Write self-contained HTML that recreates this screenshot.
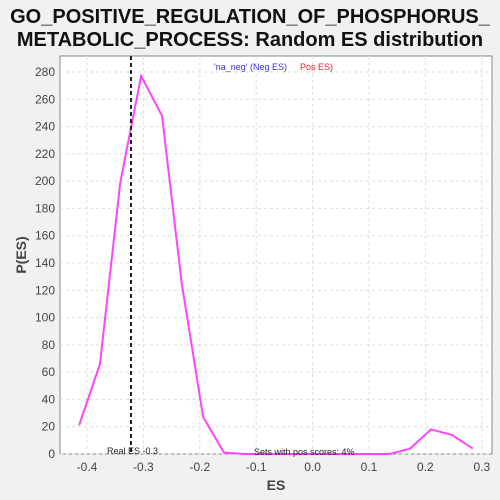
<!DOCTYPE html>
<html><head><meta charset="utf-8"><style>
body{margin:0;background:#f1f1f1;font-family:"Liberation Sans",sans-serif}
svg{display:block}
</style></head><body>
<svg id="c" width="500" height="500">
<rect width="500" height="500" fill="#f1f1f1"/>
<text x="250" y="23" text-anchor="middle" font-size="20" font-weight="bold" fill="#111">GO_POSITIVE_REGULATION_OF_PHOSPHORUS_</text>
<text x="250" y="46" text-anchor="middle" font-size="20" font-weight="bold" fill="#111">METABOLIC_PROCESS: Random ES distribution</text>
<rect x="60" y="56" width="432" height="398" fill="#fff" stroke="#888"/>
<g id="grid"></g><g id="ticks"></g>
<text x="276" y="490" text-anchor="middle" font-size="14" font-weight="bold" fill="#444">ES</text>
<text transform="translate(26,255) rotate(-90)" text-anchor="middle" font-size="14" font-weight="bold" fill="#444">P(ES)</text>
<text x="214" y="70" font-size="9" fill="#3333cc">'na_neg' (Neg ES)</text>
<text x="300" y="70" font-size="9" fill="#dd2222">Pos ES)</text>
<g id="marks"></g>
<text x="107" y="454" font-size="9" fill="#222">Real ES -0.3</text>
<text x="254" y="455" font-size="9" fill="#222">Sets with pos scores: 4%</text>
</svg>
<script>
const esValues=[-0.414,-0.377,-0.341,-0.304,-0.267,-0.232,-0.194,-0.157,-0.12,-0.083,-0.047,-0.01,0.027,0.063,0.1,0.137,0.173,0.21,0.247,0.284];
const pValues=[21,66,199,277,248,125,27,1,0,0,0,0,0,0,0,0,4,18,14,4];
const xTicks=[-0.4,-0.3,-0.2,-0.1,0.0,0.1,0.2,0.3];
const yTicks=[0,20,40,60,80,100,120,140,160,180,200,220,240,260,280];
const realES=-0.322;
const ns="http://www.w3.org/2000/svg";
const X=v=>312.6+v*564, Y=v=>454-v*(382/280);
function mk(t,a,p){const e=document.createElementNS(ns,t);for(const k in a)e.setAttribute(k,a[k]);document.getElementById(p).appendChild(e);return e;}
xTicks.forEach(t=>{
 const g=mk('line',{x1:X(t),x2:X(t),y1:56,y2:454,stroke:'#ddd','stroke-dasharray':'3,3'},'grid');
 
 
 const l=mk('text',{x:X(t),y:471,'text-anchor':'middle','font-size':'12',fill:'#444'},'ticks');
 l.textContent=t.toFixed(1);
 
 
});
yTicks.forEach(t=>{
 const g=mk('line',{x1:60,x2:492,y1:Y(t),y2:Y(t),stroke:'#ddd','stroke-dasharray':'3,3'},'grid');
 
 
 const l=mk('text',{x:55,y:Y(t)+4,'text-anchor':'end','font-size':'12',fill:'#444'},'ticks');
 l.textContent=t;
 
 
});
const pts=esValues.map((v,i)=>X(v)+','+Y(pValues[i])).join(' ');
const line=mk('polyline',{points:pts,fill:'none',stroke:'#ff44ff','stroke-width':2},'marks');


const r=mk('line',{x1:X(realES),x2:X(realES),y1:56,y2:454,stroke:'#222','stroke-width':2,'stroke-dasharray':'4,3'},'marks');


</script>
</body></html>
